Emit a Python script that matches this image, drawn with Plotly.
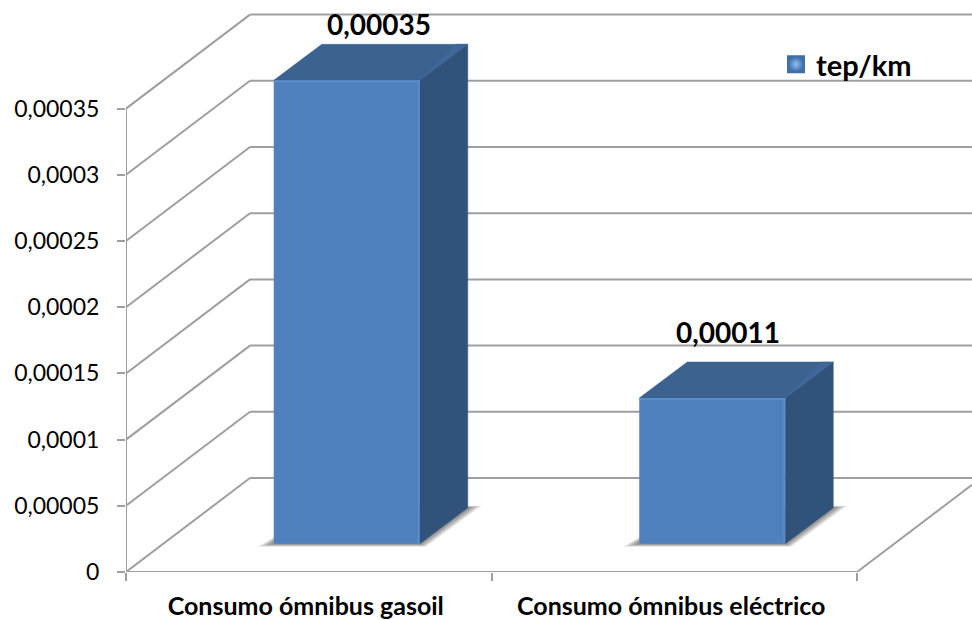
import plotly.graph_objects as go

# Chart data
categories = ["Consumo ómnibus gasoil", "Consumo ómnibus eléctrico"]
values = [0.00035, 0.00011]
series_name = "tep/km"
y_ticks = [0, 0.00005, 0.0001, 0.00015, 0.0002, 0.00025, 0.0003, 0.00035]
y_tick_text = ["0", "0,00005", "0,0001", "0,00015", "0,0002", "0,00025", "0,0003", "0,00035"]

# Scale: pixels per axis unit on each axis
X_SCALE = 365.5
Y_SCALE = 66.2 / 0.00005
PLOT_W, PLOT_H = 846, 572
x_units = lambda px: px / X_SCALE
y_units = lambda px: px / Y_SCALE

# Oblique projection of the chart box and of the bars
WALL_DX, WALL_DY = x_units(124), y_units(94)
BAR_DX, BAR_DY = x_units(48), y_units(36)
BAR_W = x_units(146)
BAR_SHIFT_X, BAR_BASE = x_units(38), y_units(28.3)

GRID = "#9f9f9f"
FRONT, TOP, SIDE = "#4f81bd", "#3c628f", "#31527a"
HILITE_FRONT, HILITE_TOP = "#5a8dc9", "#3f679a"

centers = [i + 0.5 + BAR_SHIFT_X for i in range(len(categories))]
x_end = PLOT_W / X_SCALE

fig = go.Figure()
shapes = []


def poly(xs, ys, color):
    fig.add_trace(go.Scatter(x=xs + xs[:1], y=ys + ys[:1], mode="lines", fill="toself",
                             fillcolor=color, line=dict(color=color, width=0.5),
                             hoverinfo="skip", showlegend=False))


def line(xs, ys, color=GRID, width=2, clip=True):
    fig.add_trace(go.Scatter(x=xs, y=ys, mode="lines", line=dict(color=color, width=width),
                             hoverinfo="skip", showlegend=False, cliponaxis=clip))


def back_line(x0, y0, x1, y1):
    shapes.append(dict(type="line", x0=x0, y0=y0, x1=x1, y1=y1, xref="x", yref="y", layer="below",
                       line=dict(color=GRID, width=2)))


# Side walls, back wall and floor edges sit behind the bars
for v in y_ticks:
    back_line(0, v, WALL_DX, v + WALL_DY)
    back_line(WALL_DX, v + WALL_DY, x_end, v + WALL_DY)
back_line(2, 0, x_end, (x_end - 2) / WALL_DX * WALL_DY)
line([0, 2], [0, 0], clip=False)
line([0, 0], [0, y_ticks[-1]], clip=False)

# Front faces
fig.add_trace(go.Bar(x=centers, y=values, base=BAR_BASE, width=BAR_W,
                     marker=dict(color=FRONT, line=dict(width=0), cornerradius=2),
                     hoverinfo="skip", showlegend=False))

# Top and side faces follow from each bar's value
for c, v in zip(centers, values):
    x0, x1 = c - BAR_W / 2, c + BAR_W / 2
    y0, y1 = BAR_BASE, BAR_BASE + v
    poly([x0, x1, x1 + BAR_DX, x0 + BAR_DX], [y1, y1, y1 + BAR_DY, y1 + BAR_DY], TOP)
    poly([x1, x1 + BAR_DX, x1 + BAR_DX, x1], [y0, y0 + BAR_DY, y1 + BAR_DY, y1], SIDE)
    # Bevelled edges
    poly([x1, x1 + BAR_DX, x1 + BAR_DX - x_units(12), x1 + x_units(2)],
         [y1, y1 + BAR_DY, y1 + BAR_DY, y1 + y_units(2)], HILITE_TOP)
    line([x0, x1], [y1 - y_units(1), y1 - y_units(1)], HILITE_FRONT, 2)
    line([x1 - x_units(1), x1 - x_units(1)], [y0, y1], HILITE_FRONT, 2)

# Series entry for the legend
fig.add_trace(go.Scatter(x=[None], y=[None], mode="markers", name=series_name,
                         marker=dict(symbol="square", size=16, color="#3a6ba6",
                                     gradient=dict(type="radial", color="#93bdee"),
                                     line=dict(width=2, color="#3f70ab"))))

# Soft contact shadows underneath the bars
for c, v in zip(centers, values):
    x0, x1 = c - BAR_W / 2, c + BAR_W / 2
    y0 = BAR_BASE
    for k in range(1, 7):
        t = k / 6
        pts = [(x0 - x_units(16 * t), y0 - y_units(3 * t)),
               (x1 + x_units(6 * t), y0 - y_units(3 * t)),
               (x1 + BAR_DX + x_units(14 * t), y0 + BAR_DY + y_units(2 * t)),
               (x0 + BAR_DX, y0 + BAR_DY)]
        path = "M" + " L".join(f"{a},{b}" for a, b in pts) + " Z"
        shapes.append(dict(type="path", path=path, layer="below", xref="x", yref="y",
                           fillcolor="rgba(0,0,0,0.09)", line=dict(width=0)))

# Value labels above the bars
label_offsets = [(32, 56), (16, 66)]
annotations = []
for c, v, (dx, dy) in zip(centers, values, label_offsets):
    annotations.append(dict(x=c, y=BAR_BASE + v, xref="x", yref="y", xshift=dx, yshift=dy,
                            text=f"<b>{v:.5f}</b>".replace(".", ","), showarrow=False,
                            font=dict(family="Lato", size=28, color="#000000")))

fig.update_layout(
    width=972, height=620, autosize=False,
    margin=dict(l=126, r=0, t=0, b=48, pad=0),
    paper_bgcolor="white", plot_bgcolor="white",
    font=dict(family="Lato", color="#000000"),
    shapes=shapes, annotations=annotations,
    showlegend=True,
    legend=dict(x=(776 - 126) / PLOT_W, y=1 - 39 / PLOT_H, xanchor="left", yanchor="top",
                bgcolor="rgba(0,0,0,0)", itemsizing="trace",
                font=dict(family="Lato", size=29, weight="bold")),
    xaxis=dict(range=[0, x_end], automargin=False, tickmode="array",
               tickvals=[i + 0.5 - x_units(3) for i in range(len(categories))],
               ticktext=[f"<b>{c}</b>" for c in categories], ticks="", ticklabelstandoff=17,
               tickfont=dict(family="Lato", size=25), showgrid=False, zeroline=False, showline=False,
               minor=dict(tickmode="array", tickvals=[0, 1, 2], ticks="outside", ticklen=8,
                          tickwidth=2, tickcolor=GRID, showgrid=False)),
    yaxis=dict(range=[0, PLOT_H / Y_SCALE], automargin=False, tickmode="array", tickvals=y_ticks,
               ticktext=y_tick_text, ticks="outside", ticklen=8, tickwidth=2, tickcolor=GRID,
               showgrid=False, zeroline=False, showline=False, ticklabelstandoff=13,
               tickfont=dict(family="Lato", size=23)),
)

fig.write_html("out.html")
